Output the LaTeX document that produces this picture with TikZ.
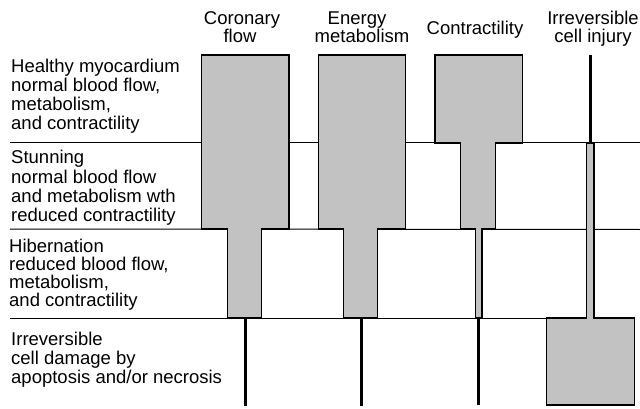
\documentclass[tikz,border=0pt]{standalone}
\usepackage{fontspec}
\setmainfont{Liberation Sans}
\begin{document}
\begin{tikzpicture}[x=1pt,y=-1pt,
  lbl/.style={font=\fontsize{18.5}{19}\selectfont, inner sep=0pt, anchor=base west},
  hdr/.style={font=\fontsize{18.5}{19}\selectfont, inner sep=0pt, anchor=base},
  rowline/.style={line width=1pt},
  barshape/.style={fill=black!24, draw=black, line width=1.5pt, line join=miter},
  stem/.style={line width=2.4pt}]
\useasboundingbox (0,0) rectangle (640,409);
% header texts
\node[hdr] (h1a) at (242,25) {Coronary};
\node[hdr] (h1b) at (240,43) {flow};
\node[hdr] (h2a) at (357,25) {Energy};
\node[hdr] (h2b) at (362,43) {metabolism};
\node[hdr] (h3) at (475,35) {Contractility};
\node[hdr] (h4a) at (593,25) {Irreversible};
\node[hdr] (h4b) at (593,43) {cell injury};
% row texts
\node[lbl] (r1a) at (11,72.3) {Healthy myocardium};
\node[lbl] (r1b) at (11,91.5) {normal blood flow,};
\node[lbl] (r1c) at (11,110.7) {metabolism,};
\node[lbl] (r1d) at (11,130) {and contractility};
\node[lbl] (r2a) at (11,163.3) {Stunning};
\node[lbl] (r2b) at (11,183) {normal blood flow};
\node[lbl] (r2c) at (11,202) {and metabolism wth};
\node[lbl] (r2d) at (11,221.5) {reduced contractility};
\node[lbl] (r3a) at (9,252.3) {Hibernation};
\node[lbl] (r3b) at (9,270.7) {reduced blood flow,};
\node[lbl] (r3c) at (9,288.5) {metabolism,};
\node[lbl] (r3d) at (9,306) {and contractility};
\node[lbl] (r4a) at (11,345) {Irreversible};
\node[lbl] (r4b) at (11,364.3) {cell damage by};
\node[lbl] (r4c) at (11,383.3) {apoptosis and/or necrosis};
% row separators
\coordinate (l1s) at (10,143); \coordinate (l1e) at (640,143);
\coordinate (l2s) at (10,229); \coordinate (l2e) at (640,229.5);
\coordinate (l3s) at (10,318); \coordinate (l3e) at (587,318);
\draw[rowline] (l1s) -- (l1e);
\draw[rowline] (l2s) -- (l2e);
\draw[rowline] (l3s) -- (l3e);
% coronary flow
\draw[barshape] (201.7,55) -- (289,55) -- (289,229) -- (261.7,229) -- (261.7,318)
  -- (227.7,318) -- (227.7,229) -- (201.7,229) -- cycle;
\coordinate (s1t) at (245.3,318); \coordinate (s1b) at (245.3,406);
\draw[stem] (s1t) -- (s1b);
% energy metabolism
\draw[barshape] (318.3,55) -- (405.7,55) -- (405.7,229) -- (377.7,229) -- (377.7,318)
  -- (343.3,318) -- (343.3,229) -- (318.3,229) -- cycle;
\coordinate (s2t) at (361.3,318); \coordinate (s2b) at (361.3,406);
\draw[stem] (s2t) -- (s2b);
% contractility
\draw[barshape] (435,55) -- (522.3,55) -- (522.3,143) -- (495.7,143) -- (495.7,229)
  -- (482,229) -- (482,318) -- (475.7,318) -- (475.7,229) -- (460.7,229)
  -- (460.7,143) -- (435,143) -- cycle;
\coordinate (s3t) at (478.5,318); \coordinate (s3b) at (478.5,405);
\draw[stem] (s3t) -- (s3b);
% irreversible cell injury
\coordinate (s4t) at (590.3,55); \coordinate (s4b) at (590.3,143);
\draw[stem] (s4t) -- (s4b);
\draw[barshape] (546.7,318) -- (586.7,318) -- (586.7,143) -- (594,143) -- (594,318)
  -- (634.3,318) -- (634.3,405) -- (546.7,405) -- cycle;
\end{tikzpicture}
\end{document}
